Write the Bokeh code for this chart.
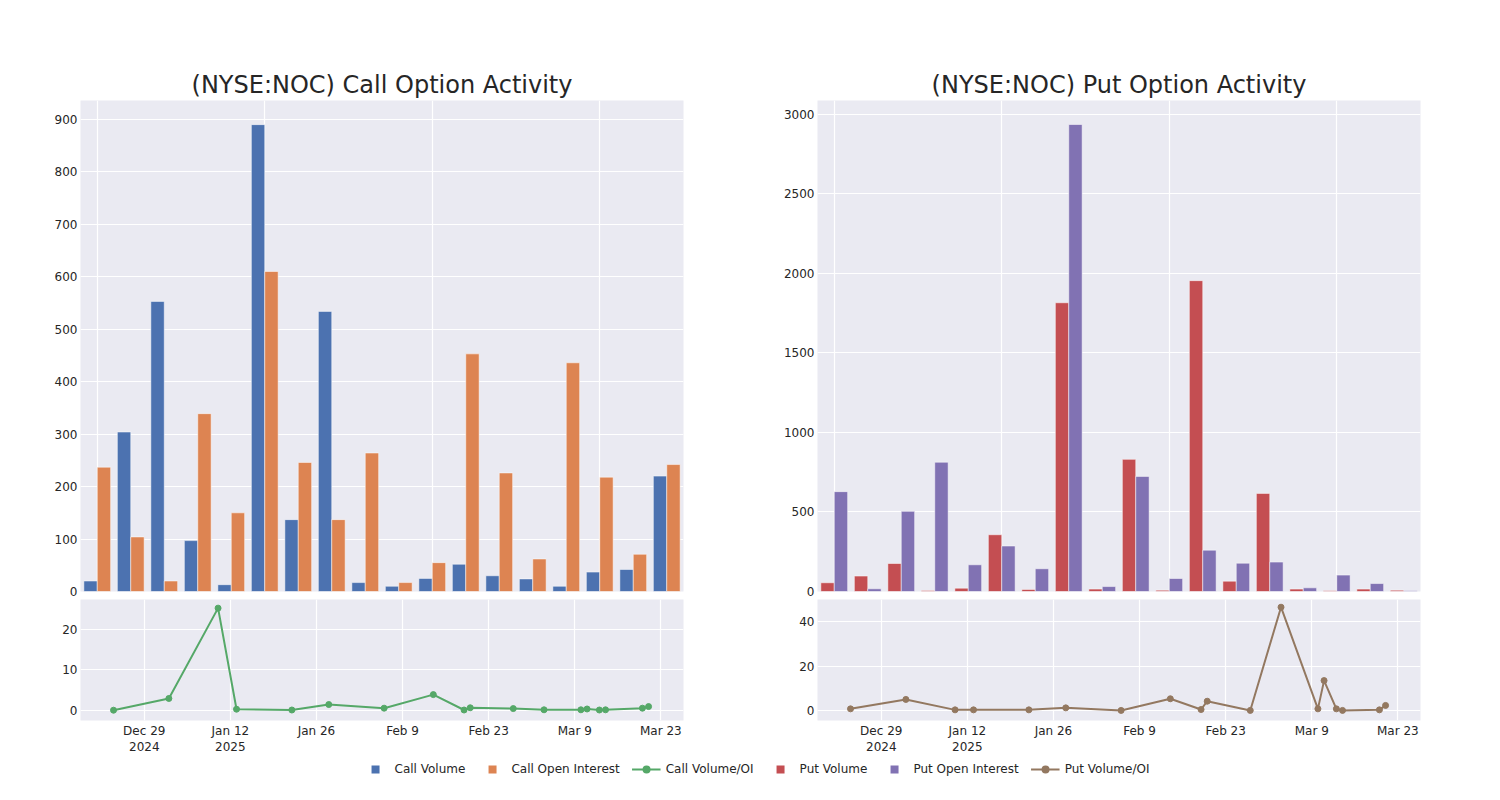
import pandas as pd
from bokeh.plotting import figure
from bokeh.layouts import column, row
from bokeh.models import (ColumnDataSource, Range1d, FixedTicker, SingleIntervalTicker,
                          Legend, LegendItem)
from bokeh.transform import dodge
from bokeh.embed import file_html
from bokeh.resources import INLINE

# ---------------- data ----------------
dates = ["2024-12-24", "2025-01-02", "2025-01-10", "2025-01-13", "2025-01-22", "2025-01-28",
         "2025-02-06", "2025-02-14", "2025-02-19", "2025-02-20", "2025-02-27", "2025-03-04",
         "2025-03-10", "2025-03-11", "2025-03-13", "2025-03-14", "2025-03-20", "2025-03-21"]

call_volume = [20, 304, 553, 97, 13, 890, 137, 534, 17, 10, 25, 52, 30, 24, 10, 37, 42, 220]
call_oi = [237, 104, 20, 339, 150, 610, 246, 137, 264, 17, 55, 453, 226, 62, 436, 218, 71, 242]
call_ratio = [0.0, 2.9, 25.2, 0.25, 0.05, 1.4, 0.5, 3.85, 0.05, 0.6, 0.4, 0.1, 0.1, 0.3, 0.05, 0.1, 0.5, 0.9]

put_volume = [55, 97, 176, 6, 21, 357, 13, 1816, 15, 831, 8, 1955, 65, 617, 15, 4, 15, 8]
put_oi = [628, 17, 504, 813, 168, 286, 143, 2937, 31, 724, 82, 260, 178, 185, 23, 103, 50, 4]
put_ratio = [0.75, 5.0, 0.3, 0.3, 0.3, 1.2, 0.05, 5.3, 0.45, 4.2, 0.05, 46.6, 0.75, 13.5, 0.75, 0.05, 0.3, 2.3]

tick_dates = ["2024-12-29", "2025-01-12", "2025-01-26", "2025-02-09", "2025-02-23", "2025-03-09", "2025-03-23"]
tick_labels = ["Dec 29\n2024", "Jan 12\n2025", "Jan 26", "Feb 9", "Feb 23", "Mar 9", "Mar 23"]

titles = ["(NYSE:NOC) Call Option Activity", "(NYSE:NOC) Put Option Activity"]
legend_labels = ["Call Volume", "Call Open Interest", "Call Volume/OI",
                 "Put Volume", "Put Open Interest", "Put Volume/OI"]

# ---------------- style ----------------
BG = "#EAEAF2"
TXT = "#262626"
FONT = "DejaVu Sans"
BLUE, ORANGE, GREEN = "#4C72B0", "#DD8452", "#55A868"
RED, PURPLE, BROWN = "#C44E52", "#8172B3", "#937860"

FW = 603
x_start = pd.Timestamp("2024-12-29") - pd.Timedelta(days=10.37)
x_end = pd.Timestamp("2024-12-29") + pd.Timedelta(days=87.68)
tick_ms = [int(pd.Timestamp(d).value // 10**6) for d in tick_dates]


def style(p):
    p.background_fill_color = BG
    p.border_fill_color = "white"
    p.outline_line_color = None
    for ax in p.axis:
        ax.axis_line_color = None
        ax.major_tick_line_color = None
        ax.minor_tick_line_color = None
        ax.major_tick_in = 0
        ax.major_tick_out = 0
        ax.minor_tick_in = 0
        ax.minor_tick_out = 0
        ax.major_label_text_font = FONT
        ax.major_label_text_font_size = "12px"
        ax.major_label_text_color = TXT
        ax.major_label_standoff = 3
    p.grid.grid_line_color = "white"
    p.grid.grid_line_width = 1.2


def bar_fig(title, vol, oi, c1, c2, ymax, interval, mbl, mbr):
    src = ColumnDataSource(dict(idx=list(range(len(vol))), vol=vol, oi=oi))
    p = figure(frame_width=FW, frame_height=491,
               x_range=Range1d(-0.5, len(vol) - 0.5), y_range=Range1d(0, ymax),
               min_border_left=mbl, min_border_right=mbr, min_border_top=100, min_border_bottom=8,
               title=title, output_backend="svg", toolbar_location=None)
    p.vbar(x=dodge("idx", -0.2, range=p.x_range), top="vol", width=0.4, source=src,
           fill_color=c1, line_color="white", line_alpha=0.5, line_width=1)
    p.vbar(x=dodge("idx", 0.2, range=p.x_range), top="oi", width=0.4, source=src,
           fill_color=c2, line_color="white", line_alpha=0.5, line_width=1)
    style(p)
    p.xaxis.visible = False
    p.xgrid.ticker = FixedTicker(ticks=[0, 5, 10, 15])
    p.yaxis.ticker = SingleIntervalTicker(interval=interval)
    p.ygrid.ticker = SingleIntervalTicker(interval=interval)
    p.title.text_font = FONT
    p.title.text_font_size = "24px"
    p.title.text_font_style = "normal"
    p.title.text_color = TXT
    p.title.align = "center"
    p.title.standoff = 4
    return p


def line_fig(ratio, color, y0, y1, interval, mbl, mbr):
    src = ColumnDataSource(dict(date=pd.to_datetime(dates), r=ratio))
    p = figure(frame_width=FW, frame_height=121, x_axis_type="datetime",
               x_range=Range1d(x_start, x_end), y_range=Range1d(y0, y1),
               min_border_left=mbl, min_border_right=mbr, min_border_top=0, min_border_bottom=32,
               output_backend="svg", toolbar_location=None)
    p.line("date", "r", source=src, line_color=color, line_width=2)
    p.scatter("date", "r", source=src, size=6, fill_color=color, line_color=color)
    style(p)
    p.xaxis.ticker = FixedTicker(ticks=tick_ms)
    p.xgrid.ticker = FixedTicker(ticks=tick_ms)
    p.xaxis.major_label_overrides = {ms: lab for ms, lab in zip(tick_ms, tick_labels)}
    p.yaxis.ticker = SingleIntervalTicker(interval=interval)
    p.ygrid.ticker = SingleIntervalTicker(interval=interval)
    return p


top_l = bar_fig(titles[0], call_volume, call_oi, BLUE, ORANGE, 936, 100, 80, 62)
bot_l = line_fig(call_ratio, GREEN, -2.54, 27.33, 10, 80, 62)
top_r = bar_fig(titles[1], put_volume, put_oi, RED, PURPLE, 3088, 500, 72, 20)
bot_r = line_fig(put_ratio, BROWN, -4.5, 50.07, 20, 72, 20)

# ---------------- legend ----------------
lf = figure(frame_width=1370, frame_height=24, min_border_left=70, min_border_right=0,
            min_border_top=0, min_border_bottom=0, x_range=Range1d(0, 1), y_range=Range1d(0, 1),
            output_backend="svg", toolbar_location=None)
lf.axis.visible = False
lf.grid.visible = False
lf.outline_line_color = None
lf.background_fill_color = "white"
lf.border_fill_color = "white"

NAN = [float("nan")]
items = []
for lab, col, kind in zip(legend_labels,
                          [BLUE, ORANGE, GREEN, RED, PURPLE, BROWN],
                          ["sq", "sq", "ln", "sq", "sq", "ln"]):
    if kind == "sq":
        r = lf.scatter(x=NAN, y=NAN, marker="square", fill_color=col, line_color=None)
        items.append(LegendItem(label=lab, renderers=[r]))
    else:
        rl = lf.line(x=NAN, y=NAN, line_color=col, line_width=2)
        rs = lf.scatter(x=NAN, y=NAN, marker="circle", fill_color=col, line_color=None)
        items.append(LegendItem(label=lab, renderers=[rl, rs]))

leg = Legend(items=items, orientation="horizontal", location="center",
             glyph_width=29, glyph_height=20, label_standoff=5, spacing=12,
             padding=0, margin=0, border_line_color=None, background_fill_alpha=0,
             label_text_font=FONT, label_text_font_size="12px", label_text_color=TXT)
lf.add_layout(leg, "center")

layout = column(row(column(top_l, bot_l), column(top_r, bot_r)), lf)

open("out.html", "w").write(file_html(layout, INLINE))
